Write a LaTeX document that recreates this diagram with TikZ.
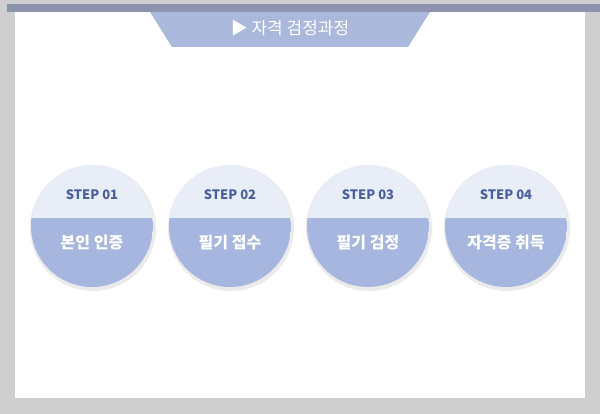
\documentclass[tikz,border=0pt]{standalone}
\usepackage{fontspec}
\setmainfont{Noto Sans CJK KR}
\usetikzlibrary{positioning}
\definecolor{frame}{HTML}{CFCFCF}
\definecolor{stripe}{HTML}{8D93AD}
\definecolor{titlebg}{HTML}{AAB8DC}
\definecolor{steptop}{HTML}{E9EDF8}
\definecolor{stepbot}{HTML}{A7B6DE}
\definecolor{steptext}{HTML}{4A5F9E}
\tikzstyle{stepcircle} = [circle, minimum size=122pt, inner sep=0pt]
\tikzstyle{steplabel} = [text=steptext, font=\bfseries\fontsize{13}{13}\selectfont]
\tikzstyle{stepname} = [text=white, font=\bfseries\fontsize{16}{16}\selectfont]

\begin{document}
\begin{tikzpicture}[x=1pt, y=-1pt]
\fill[frame] (0,0) rectangle (600,414);
\fill[white] (15,12) rectangle (585,398);
\fill[stripe] (7,4) rectangle (600,12);
\fill[titlebg] (150,12) -- (430,12) -- (408,47) -- (172,47) -- cycle;
\node (title) at (290,28) [text=white, font=\fontsize{17}{17}\selectfont] {▶ 자격 검정과정};

\foreach \x/\num/\name [count=\i] in {92/01/본인 인증, 230/02/필기 접수, 368/03/필기 검정, 506/04/자격증 취득} {
  \fill[black!8] (\x+1,228) circle (63);
  \node (step\i) at (\x,226) [stepcircle] {};
  \begin{scope}
    \clip (step\i) circle (61);
    \fill[steptop] (\x-61,165) rectangle (\x+61,218);
    \fill[stepbot] (\x-61,218) rectangle (\x+61,287);
  \end{scope}
  \node (label\i) at (\x,195) [steplabel] {STEP \num};
  \node (name\i) at (\x,243) [stepname] {\name};
}

\end{tikzpicture}
\end{document}
